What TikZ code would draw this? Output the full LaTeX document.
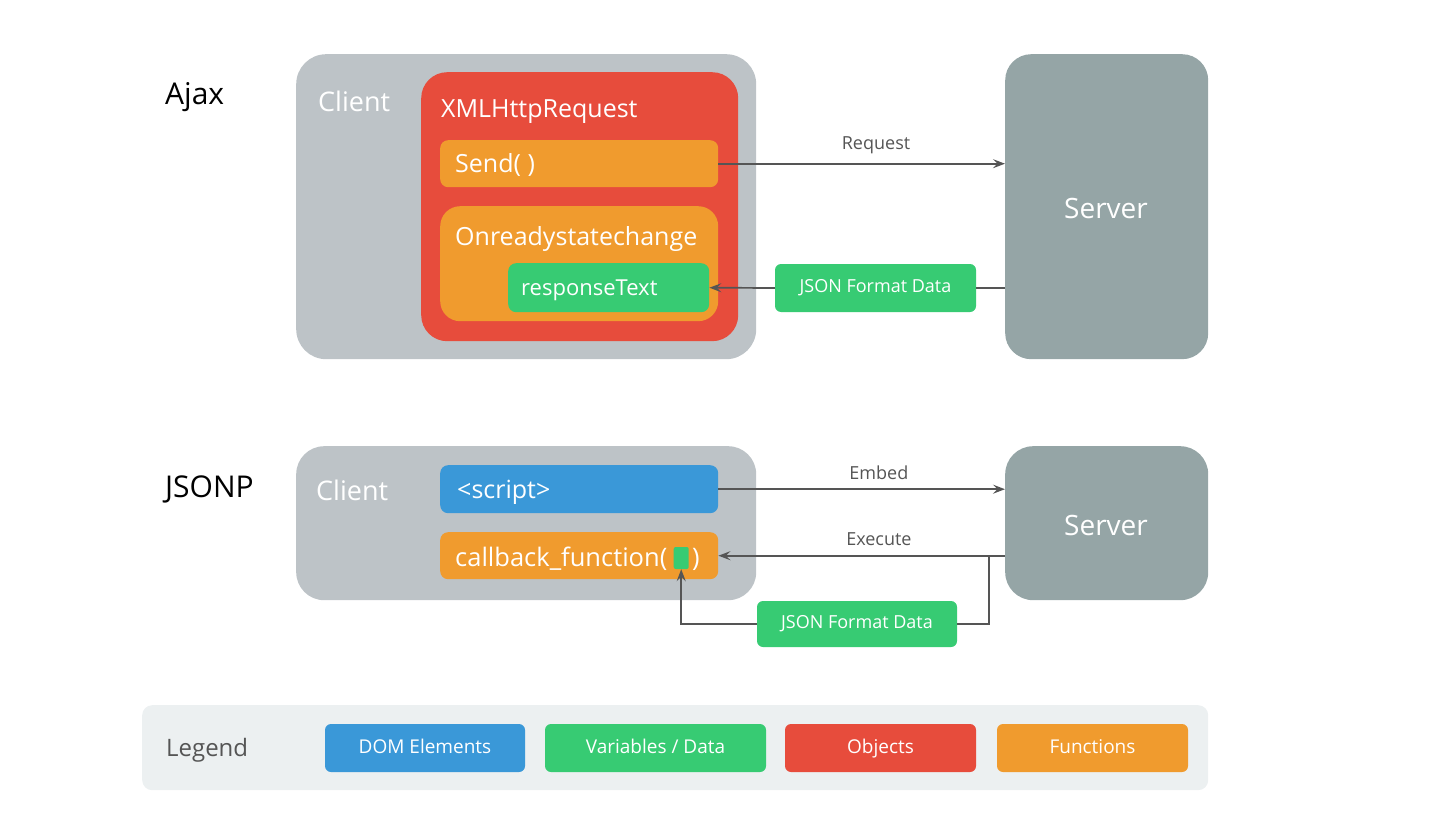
\documentclass[tikz,border=0pt]{standalone}
\usepackage{fontspec}
\setmainfont{Open Sans}
\usetikzlibrary{arrows.meta}
\definecolor{cgray}{HTML}{BDC3C7}
\definecolor{sgray}{HTML}{95A5A6}
\definecolor{cred}{HTML}{E74C3C}
\definecolor{corange}{HTML}{F09B2E}
\definecolor{cgreen}{HTML}{37CB73}
\definecolor{cblue}{HTML}{3A98D8}
\definecolor{lgbg}{HTML}{ECF0F1}
\definecolor{ink}{HTML}{555555}
\newcommand{\fs}[1]{\fontsize{#1}{#1}\selectfont}
\tikzset{
  x=1pt, y=-1pt,
  panel/.style={draw=none, inner sep=0pt, anchor=north west},
  wtext/.style={text=white, inner sep=0pt, anchor=west, yshift=-2pt},
  lbl/.style={text=ink, inner sep=0pt, font=\fs{18}},
  arr/.style={draw=ink, line width=1.7pt, -{Stealth[length=12pt,width=9pt,inset=4.5pt]}},
  ln/.style={draw=ink, line width=1.7pt},
  datab/.style={fill=cgreen, rounded corners=6pt, inner sep=0pt, text=white, font=\fs{18}, text height=13pt, text depth=4pt},
  legb/.style={rounded corners=6pt, inner sep=0pt, text=white, font=\fs{19}, minimum height=48pt, text height=14pt, text depth=4pt},
}
\begin{document}
\begin{tikzpicture}
\useasboundingbox (0,0) rectangle (1446,840);
% ---------- Ajax ----------
\node[inner sep=0pt, anchor=west, font=\fs{30}, yshift=-2pt] (ajaxt) at (165,95) {Ajax};
\node[panel, fill=cgray, rounded corners=30pt, minimum width=460pt, minimum height=305pt] (ajaxclient) at (296,54) {};
\node[wtext, font=\fs{27}] (ajaxclientt) at (318,99) {Client};
\node[panel, fill=cred, rounded corners=26pt, minimum width=317pt, minimum height=269pt] (xhr) at (421,72) {};
\node[wtext, font=\fs{25}] (xhrt) at (441,110) {XMLHttpRequest};
\node[panel, fill=corange, rounded corners=8pt, minimum width=278pt, minimum height=47pt] (send) at (440,140) {};
\node[wtext, font=\fs{25}] (sendt) at (455,163) {Send( )};
\node[panel, fill=corange, rounded corners=20pt, minimum width=278pt, minimum height=115pt] (ors) at (440,206) {};
\node[wtext, font=\fs{25}] (orst) at (455,237) {Onreadystatechange};
\node[panel, fill=cgreen, rounded corners=8pt, minimum width=201pt, minimum height=49pt] (resp) at (508,263) {};
\node[wtext, font=\fs{22}] (respt) at (521,288) {responseText};
\node[panel, fill=sgray, rounded corners=26pt, minimum width=203pt, minimum height=305pt] (ajaxserver) at (1005,54) {};
\node[text=white, inner sep=0pt, font=\fs{28}] (ajaxservert) at (1106,208) {Server};
\node[datab, minimum width=201pt, minimum height=48pt] (ajaxjson) at (875.5,288) {JSON Format Data};
\draw[arr] (send.east) -- node[lbl, pos=0.55, above=9pt] (reqt) {Request} (ajaxserver.west |- send.east);
\draw[ln] (ajaxserver.west |- ajaxjson.east) -- (ajaxjson.east);
\draw[arr] (ajaxjson.west) -- (resp.east);
% ---------- JSONP ----------
\node[inner sep=0pt, anchor=west, font=\fs{30}, yshift=-2pt] (jsonpt) at (165,487) {JSONP};
\node[panel, fill=cgray, rounded corners=28pt, minimum width=460pt, minimum height=154pt] (jclient) at (296,446) {};
\node[wtext, font=\fs{27}] (jclientt) at (316,488) {Client};
\node[panel, fill=cblue, rounded corners=8pt, minimum width=278pt, minimum height=48pt] (script) at (440,465) {};
\node[wtext, font=\fs{25}] (scriptt) at (457,490) {<script>};
\node[panel, fill=corange, rounded corners=8pt, minimum width=278pt, minimum height=47pt] (cb) at (440,532) {};
\node[wtext, font=\fs{25.5}] (cbt) at (455,557) {callback\_function(};
\node[fill=cgreen, rounded corners=2pt, inner sep=0pt, minimum width=15pt, minimum height=22pt, anchor=west] (cbvar) at ([xshift=6pt]cbt.east |- 0,558) {};
\node[wtext, font=\fs{25.5}] (cbclose) at ([xshift=3pt]cbvar.east |- 0,557) {)};
\node[panel, fill=sgray, rounded corners=28pt, minimum width=203pt, minimum height=154pt] (jserver) at (1005,446) {};
\node[text=white, inner sep=0pt, font=\fs{28}] (jservert) at (1106,525) {Server};
\node[datab, minimum width=200pt, minimum height=46pt] (jjson) at (857,624) {JSON Format Data};
\draw[arr] (script.east) -- node[lbl, pos=0.56, above=9pt] (embedt) {Embed} (jserver.west |- script.east);
\draw[arr] (jserver.west |- cb.east) -- node[lbl, pos=0.44, above=9pt] (exect) {Execute} (cb.east);
\coordinate (br) at (989,556);
\draw[ln] (br) |- (jjson.east);
\draw[arr] (jjson.west) -| (cbvar.south);
% ---------- Legend ----------
\node[panel, fill=lgbg, rounded corners=10pt, minimum width=1066pt, minimum height=85pt] (legend) at (142,705) {};
\node[inner sep=0pt, anchor=west, text=ink, font=\fs{24}, yshift=-2pt] (legendt) at (166,748) {Legend};
\node[legb, fill=cblue, minimum width=200pt] (ldom) at (425,748) {DOM Elements};
\node[legb, fill=cgreen, minimum width=221pt] (lvar) at (655.5,748) {Variables / Data};
\node[legb, fill=cred, minimum width=191pt] (lobj) at (880.5,748) {Objects};
\node[legb, fill=corange, minimum width=191pt] (lfun) at (1092.5,748) {Functions};
\end{tikzpicture}
\end{document}
